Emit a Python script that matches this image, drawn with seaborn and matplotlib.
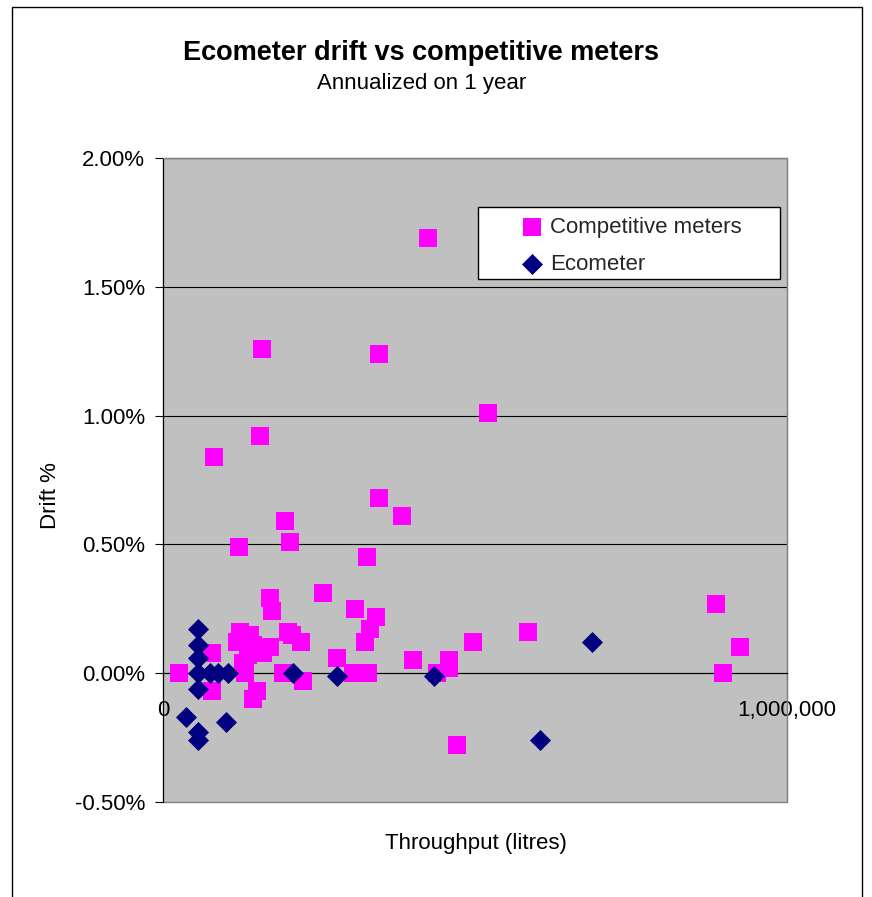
import matplotlib
matplotlib.use('Agg')
import matplotlib.pyplot as plt
from matplotlib.patches import Rectangle
from matplotlib.ticker import PercentFormatter, FuncFormatter
import seaborn as sns
import pandas as pd

# Competitive meters: throughput (litres) vs drift (%)
comp_x = [25000, 82000, 78000, 78000, 122000, 155000, 159000, 123000, 139000, 119000,
          144000, 136000, 128000, 131000, 151000, 144000, 172000, 175000, 172000, 160000,
          196000, 204000, 200000, 207000, 192000, 221000, 224000, 256000, 279000, 308000,
          327000, 346000, 346000, 341000, 332000, 324000, 305000, 329000, 383000, 401000,
          425000, 439000, 458000, 458000, 471000, 497000, 521000, 585000, 886000, 897000,
          925000]
comp_y = [0.00, 0.84, 0.08, -0.07, 0.49, 0.92, 1.26, 0.16, 0.15, 0.12,
          0.11, 0.07, 0.04, 0.00, -0.07, -0.10, 0.29, 0.24, 0.10, 0.08,
          0.59, 0.51, 0.16, 0.15, 0.00, 0.12, -0.03, 0.31, 0.06, 0.25,
          0.45, 1.24, 0.68, 0.22, 0.17, 0.12, 0.00, 0.00, 0.61, 0.05,
          1.69, 0.00, 0.05, 0.02, -0.28, 0.12, 1.01, 0.16, 0.27, 0.00,
          0.10]

# Ecometer
eco_x = [37000, 56000, 56000, 56000, 56000, 56000, 56000, 56000, 75000, 88000,
         104000, 101000, 208000, 279000, 434000, 604000, 688000]
eco_y = [-0.17, 0.17, 0.11, 0.06, 0.00, -0.06, -0.23, -0.26, 0.00, 0.00,
         0.00, -0.19, 0.00, -0.01, -0.01, -0.26, 0.12]

series_names = ['Competitive meters', 'Ecometer']
y_ticks = [-0.5, 0.0, 0.5, 1.0, 1.5, 2.0]
x_ticks = [0, 1000000]

df_comp = pd.DataFrame({'throughput': comp_x, 'drift': comp_y})
df_eco = pd.DataFrame({'throughput': eco_x, 'drift': eco_y})

sns.set_style('ticks', {'axes.facecolor': '#C0C0C0'})
plt.rcParams['font.family'] = ['Liberation Sans', 'DejaVu Sans']
plt.rcParams['axes.unicode_minus'] = False

fig = plt.figure(figsize=(8.72, 8.97), dpi=100)
ax = fig.add_axes([163 / 872, 1 - 802 / 897, 624 / 872, 644 / 897])

sns.scatterplot(data=df_comp, x='throughput', y='drift', marker='s', s=150,
                color='#FF00FF', linewidth=0, label=series_names[0], ax=ax, zorder=3)
sns.scatterplot(data=df_eco, x='throughput', y='drift', marker='D', s=115,
                color='#000080', linewidth=0, label=series_names[1], ax=ax, zorder=4)

ax.set_xlim(x_ticks[0], x_ticks[-1])
ax.set_ylim(y_ticks[0], y_ticks[-1])
ax.set_yticks(y_ticks)
ax.yaxis.set_major_formatter(PercentFormatter(xmax=100, decimals=2))
ax.set_xticks(x_ticks)
ax.xaxis.set_major_formatter(FuncFormatter(lambda v, p: f'{v:,.0f}'))
ax.tick_params(axis='y', labelsize=16, length=6, width=0.8, pad=7, colors='black')
ax.tick_params(axis='x', labelsize=16, length=5, width=0.8, pad=14, colors='black')
ax.set_xlabel('')
ax.set_ylabel('')

# gridlines
for yv in y_ticks[1:]:
    ax.axhline(yv, color='black', lw=0.8, zorder=1)

# x axis crosses at 0
ax.spines['bottom'].set_position(('data', 0))
ax.spines['bottom'].set_color('black')
ax.spines['bottom'].set_linewidth(0.8)
ax.spines['left'].set_color('black')
ax.spines['left'].set_linewidth(0.8)
for sp in ['top', 'right']:
    ax.spines[sp].set_visible(True)
    ax.spines[sp].set_color('#808080')
ax.add_patch(Rectangle((0, 0), 1, 1, transform=ax.transAxes, fill=False,
                       ec='#808080', lw=1, clip_on=False, zorder=2))

# legend box
ax.add_patch(Rectangle((0.5048, 0.8121), 0.484, 0.1118, transform=ax.transAxes,
                       fc='white', ec='black', lw=1, zorder=5))
leg = ax.legend(loc='upper left', bbox_to_anchor=(0.574, 0.908), frameon=False,
                fontsize=16, borderpad=0, handlelength=1, handletextpad=0.3,
                labelspacing=0.7, borderaxespad=0)
leg.set_zorder(6)

fig.text(421 / 872, 1 - 53 / 897, 'Ecometer drift vs competitive meters',
         ha='center', va='center', fontsize=19.5, fontweight='bold', color='black')
fig.text(422 / 872, 1 - 84 / 897, 'Annualized on 1 year',
         ha='center', va='center', fontsize=16, color='black')
fig.text(50 / 872, 1 - 496 / 897, 'Drift %', rotation=90,
         ha='center', va='center', fontsize=16, color='black')
fig.text(476 / 872, 1 - 843 / 897, 'Throughput (litres)',
         ha='center', va='center', fontsize=16, color='black')

# outer chart border
fig.patches.append(Rectangle((12 / 872, -0.1), (862 - 12) / 872, 1 - 7 / 897 + 0.1,
                             transform=fig.transFigure, fill=False, ec='black', lw=1))

fig.savefig('out.png', dpi=100)
